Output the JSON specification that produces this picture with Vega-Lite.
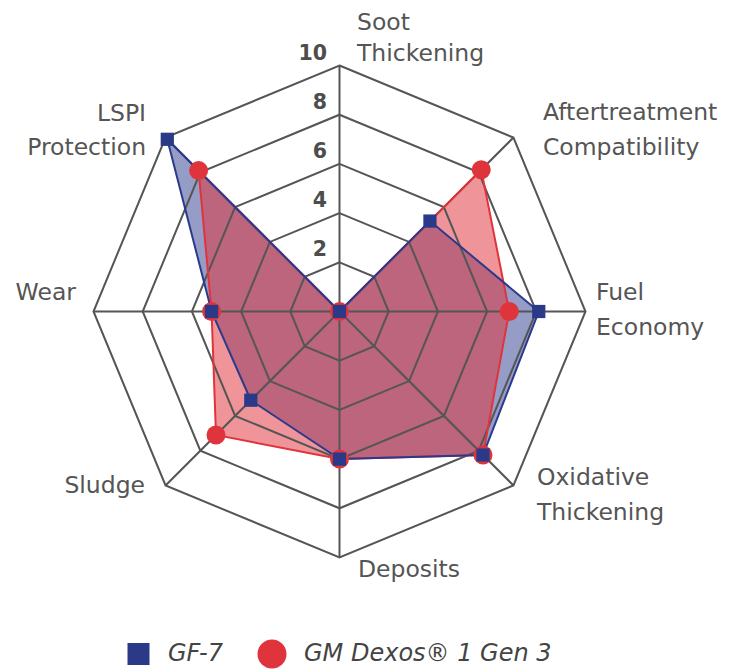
{
  "$schema": "https://vega.github.io/schema/vega-lite/v6.json",
  "width": 734,
  "height": 669,
  "autosize": "none",
  "padding": 0,
  "background": "white",
  "config": {"view": {"stroke": null}},
  "datasets": {
    "scores": [
      {"series": "GM Dexos® 1 Gen 3", "axis": "Soot Thickening", "value": 0},
      {"series": "GM Dexos® 1 Gen 3", "axis": "Aftertreatment Compatibility", "value": 8.15},
      {"series": "GM Dexos® 1 Gen 3", "axis": "Fuel Economy", "value": 6.9},
      {"series": "GM Dexos® 1 Gen 3", "axis": "Oxidative Thickening", "value": 8.25},
      {"series": "GM Dexos® 1 Gen 3", "axis": "Deposits", "value": 6},
      {"series": "GM Dexos® 1 Gen 3", "axis": "Sludge", "value": 7.1},
      {"series": "GM Dexos® 1 Gen 3", "axis": "Wear", "value": 5.2},
      {"series": "GM Dexos® 1 Gen 3", "axis": "LSPI Protection", "value": 8.1},
      {"series": "GF-7", "axis": "Soot Thickening", "value": 0},
      {"series": "GF-7", "axis": "Aftertreatment Compatibility", "value": 5.2},
      {"series": "GF-7", "axis": "Fuel Economy", "value": 8.1},
      {"series": "GF-7", "axis": "Oxidative Thickening", "value": 8.25},
      {"series": "GF-7", "axis": "Deposits", "value": 6},
      {"series": "GF-7", "axis": "Sludge", "value": 5.1},
      {"series": "GF-7", "axis": "Wear", "value": 5.2},
      {"series": "GF-7", "axis": "LSPI Protection", "value": 9.9}
    ],
    "axes": [
      {"axis": "Soot Thickening", "label": "Soot\nThickening"},
      {"axis": "Aftertreatment Compatibility", "label": "Aftertreatment\nCompatibility"},
      {"axis": "Fuel Economy", "label": "Fuel\nEconomy"},
      {"axis": "Oxidative Thickening", "label": "Oxidative\nThickening"},
      {"axis": "Deposits", "label": "Deposits"},
      {"axis": "Sludge", "label": "Sludge"},
      {"axis": "Wear", "label": "Wear"},
      {"axis": "LSPI Protection", "label": "LSPI\nProtection"}
    ],
    "rings": [
      {"level": 2, "k": [0, 1, 2, 3, 4, 5, 6, 7]},
      {"level": 4, "k": [0, 1, 2, 3, 4, 5, 6, 7]},
      {"level": 6, "k": [0, 1, 2, 3, 4, 5, 6, 7]},
      {"level": 8, "k": [0, 1, 2, 3, 4, 5, 6, 7]},
      {"level": 10, "k": [0, 1, 2, 3, 4, 5, 6, 7]}
    ],
    "ticks": [{"level": 2}, {"level": 4}, {"level": 6}, {"level": 8}, {"level": 10}]
  },
  "encoding": {
    "x": {"field": "x", "type": "quantitative", "scale": {"domain": [-13.801, 16.037], "nice": false, "zero": false}, "axis": null},
    "y": {"field": "y", "type": "quantitative", "scale": {"domain": [-14.533, 12.663], "nice": false, "zero": false}, "axis": null}
  },
  "layer": [
    {
      "data": {"name": "scores"},
      "transform": [
        {"window": [{"op": "row_number", "as": "n"}], "groupby": ["series"]},
        {"calculate": "(datum.n - 1) * PI / 4", "as": "a"},
        {"calculate": "datum.value * sin(datum.a)", "as": "x"},
        {"calculate": "datum.value * cos(datum.a)", "as": "y"}
      ],
      "layer": [
        {
          "transform": [{"filter": "datum.series === 'GF-7'"}],
          "mark": {"type": "line", "interpolate": "linear-closed", "fill": "#2b3a8c", "fillOpacity": 0.5, "strokeWidth": 0},
          "encoding": {"order": {"field": "n", "type": "quantitative"}}
        },
        {
          "transform": [{"filter": "datum.series !== 'GF-7'"}],
          "mark": {"type": "line", "interpolate": "linear-closed", "fill": "#e0343c", "fillOpacity": 0.52, "strokeWidth": 0},
          "encoding": {"order": {"field": "n", "type": "quantitative"}}
        }
      ]
    },
    {
      "data": {"name": "rings"},
      "transform": [
        {"flatten": ["k"]},
        {"calculate": "datum.k * PI / 4", "as": "a"},
        {"calculate": "datum.level * sin(datum.a)", "as": "x"},
        {"calculate": "datum.level * cos(datum.a)", "as": "y"}
      ],
      "mark": {"type": "line", "interpolate": "linear-closed", "stroke": "#555555", "strokeWidth": 2},
      "encoding": {
        "detail": {"field": "level", "type": "nominal"},
        "order": {"field": "k", "type": "quantitative"}
      }
    },
    {
      "data": {"name": "axes"},
      "transform": [
        {"window": [{"op": "row_number", "as": "n"}]},
        {"calculate": "(datum.n - 1) * PI / 4", "as": "a"},
        {"calculate": "10 * sin(datum.a)", "as": "x"},
        {"calculate": "10 * cos(datum.a)", "as": "y"}
      ],
      "layer": [
        {
          "mark": {"type": "rule", "stroke": "#555555", "strokeWidth": 2},
          "encoding": {"x2": {"datum": 0}, "y2": {"datum": 0}}
        },
        {
          "transform": [{"filter": "datum.n === 1"}],
          "mark": {"type": "text", "align": "left", "baseline": "middle", "dx": 17.5, "dy": -43, "lineBreak": "\n", "lineHeight": 31.5, "font": "DejaVu Sans", "fontSize": 23.5, "fill": "#555555"},
          "encoding": {"text": {"field": "label", "type": "nominal"}}
        },
        {
          "transform": [{"filter": "datum.n === 2"}],
          "mark": {"type": "text", "align": "left", "baseline": "middle", "dx": 29.5, "dy": -24.3, "lineBreak": "\n", "lineHeight": 35, "font": "DejaVu Sans", "fontSize": 23.5, "fill": "#555555"},
          "encoding": {"text": {"field": "label", "type": "nominal"}}
        },
        {
          "transform": [{"filter": "datum.n === 3"}],
          "mark": {"type": "text", "align": "left", "baseline": "middle", "dx": 10.5, "dy": -18.5, "lineBreak": "\n", "lineHeight": 35, "font": "DejaVu Sans", "fontSize": 23.5, "fill": "#555555"},
          "encoding": {"text": {"field": "label", "type": "nominal"}}
        },
        {
          "transform": [{"filter": "datum.n === 4"}],
          "mark": {"type": "text", "align": "left", "baseline": "middle", "dx": 23.5, "dy": -7.4, "lineBreak": "\n", "lineHeight": 35, "font": "DejaVu Sans", "fontSize": 23.5, "fill": "#555555"},
          "encoding": {"text": {"field": "label", "type": "nominal"}}
        },
        {
          "transform": [{"filter": "datum.n === 5"}],
          "mark": {"type": "text", "align": "left", "baseline": "middle", "dx": 18.5, "dy": 12.5, "font": "DejaVu Sans", "fontSize": 23.5, "fill": "#555555"},
          "encoding": {"text": {"field": "label", "type": "nominal"}}
        },
        {
          "transform": [{"filter": "datum.n === 6"}],
          "mark": {"type": "text", "align": "right", "baseline": "middle", "dx": -20.5, "dy": 0.5, "font": "DejaVu Sans", "fontSize": 23.5, "fill": "#555555"},
          "encoding": {"text": {"field": "label", "type": "nominal"}}
        },
        {
          "transform": [{"filter": "datum.n === 7"}],
          "mark": {"type": "text", "align": "right", "baseline": "middle", "dx": -17.5, "dy": -18.5, "font": "DejaVu Sans", "fontSize": 23.5, "fill": "#555555"},
          "encoding": {"text": {"field": "label", "type": "nominal"}}
        },
        {
          "transform": [{"filter": "datum.n === 8"}],
          "mark": {"type": "text", "align": "right", "baseline": "middle", "dx": -19.5, "dy": -23.6, "lineBreak": "\n", "lineHeight": 34, "font": "DejaVu Sans", "fontSize": 23.5, "fill": "#555555"},
          "encoding": {"text": {"field": "label", "type": "nominal"}}
        }
      ]
    },
    {
      "data": {"name": "ticks"},
      "transform": [
        {"calculate": "0", "as": "x"},
        {"calculate": "datum.level", "as": "y"}
      ],
      "mark": {"type": "text", "align": "right", "baseline": "middle", "dx": -12.5, "dy": -12, "font": "DejaVu Sans", "fontWeight": "bold", "fontSize": 20.5, "fill": "#4d4d4d"},
      "encoding": {"text": {"field": "level", "type": "quantitative"}}
    },
    {
      "data": {"name": "scores"},
      "transform": [
        {"window": [{"op": "row_number", "as": "n"}], "groupby": ["series"]},
        {"calculate": "(datum.n - 1) * PI / 4", "as": "a"},
        {"calculate": "datum.value * sin(datum.a)", "as": "x"},
        {"calculate": "datum.value * cos(datum.a)", "as": "y"}
      ],
      "layer": [
        {
          "transform": [{"filter": "datum.series !== 'GF-7'"}],
          "mark": {"type": "line", "interpolate": "linear-closed", "stroke": "#e0343c", "strokeWidth": 2},
          "encoding": {"order": {"field": "n", "type": "quantitative"}}
        },
        {
          "transform": [{"filter": "datum.series === 'GF-7'"}],
          "mark": {"type": "line", "interpolate": "linear-closed", "stroke": "#2b3a8c", "strokeWidth": 2},
          "encoding": {"order": {"field": "n", "type": "quantitative"}}
        },
        {
          "transform": [{"filter": "datum.series !== 'GF-7'"}],
          "mark": {"type": "point", "shape": "circle", "filled": true, "opacity": 1, "strokeWidth": 0, "size": 360, "fill": "#df343b"}
        },
        {
          "transform": [{"filter": "datum.series === 'GF-7'"}],
          "mark": {"type": "point", "shape": "square", "filled": true, "opacity": 1, "strokeWidth": 0, "size": 175, "fill": "#2a3a88"}
        },
        {
          "transform": [{"filter": "datum.value < 0"}],
          "mark": {"type": "point", "filled": true, "opacity": 1, "strokeWidth": 0},
          "encoding": {
            "color": {
              "field": "series", "type": "nominal",
              "scale": {"domain": ["GF-7", "GM Dexos® 1 Gen 3"], "range": ["#2a3a88", "#df343b"]},
              "legend": {
                "title": null, "orient": "none", "legendX": 126.5, "legendY": 639.5,
                "direction": "horizontal", "symbolStrokeWidth": 0,
                "labelFont": "DejaVu Sans", "labelFontSize": 24, "labelFontStyle": "italic", "labelColor": "#444444",
                "labelOffset": 17.5, "columnPadding": 34, "labelLimit": 400
              }
            },
            "shape": {
              "field": "series", "type": "nominal",
              "scale": {"domain": ["GF-7", "GM Dexos® 1 Gen 3"], "range": ["square", "circle"]},
              "legend": {
                "title": null, "orient": "none", "legendX": 126.5, "legendY": 639.5,
                "direction": "horizontal", "symbolStrokeWidth": 0,
                "labelFont": "DejaVu Sans", "labelFontSize": 24, "labelFontStyle": "italic", "labelColor": "#444444",
                "labelOffset": 17.5, "columnPadding": 34, "labelLimit": 400
              }
            },
            "size": {
              "field": "series", "type": "nominal",
              "scale": {"type": "ordinal", "domain": ["GF-7", "GM Dexos® 1 Gen 3"], "range": [484, 841]},
              "legend": {
                "title": null, "orient": "none", "legendX": 126.5, "legendY": 639.5,
                "direction": "horizontal", "symbolStrokeWidth": 0,
                "labelFont": "DejaVu Sans", "labelFontSize": 24, "labelFontStyle": "italic", "labelColor": "#444444",
                "labelOffset": 17.5, "columnPadding": 34, "labelLimit": 400
              }
            }
          }
        }
      ]
    }
  ]
}
